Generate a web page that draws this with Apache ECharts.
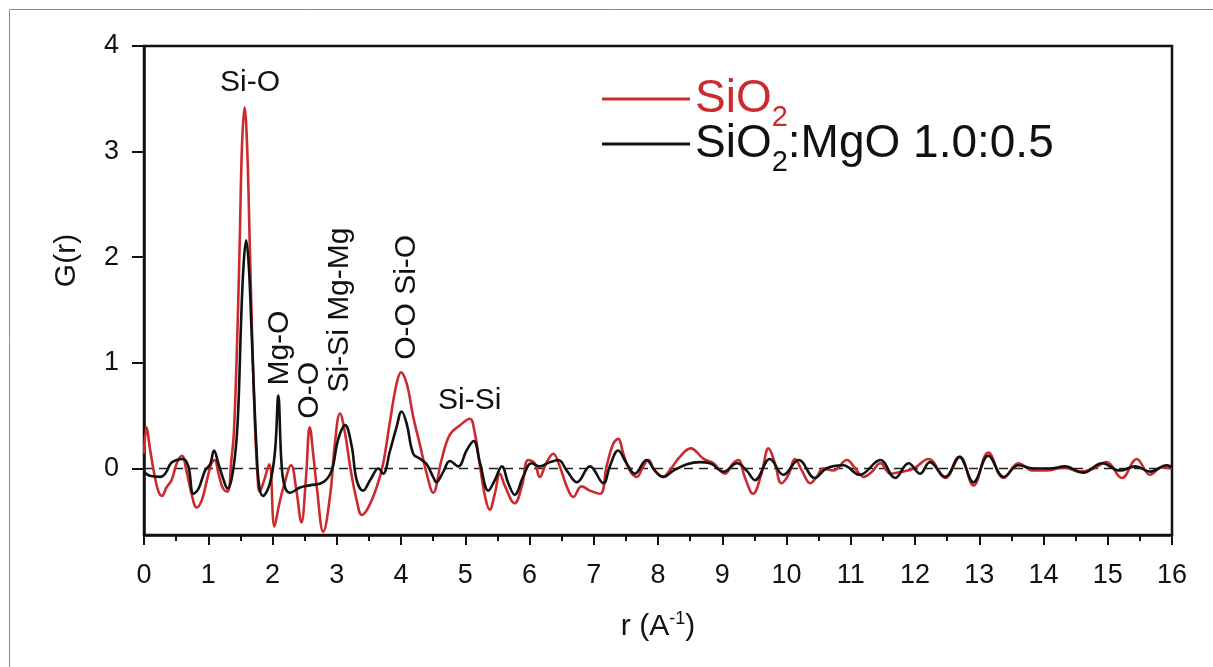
<!DOCTYPE html>
<html>
<head>
<meta charset="utf-8">
<script src="https://cdn.jsdelivr.net/npm/echarts@6/dist/echarts.min.js"></script>
<style>
  html, body { margin: 0; padding: 0; background: #fff; }
  #chart { width: 1213px; height: 667px; }
</style>
</head>
<body>
<div id="chart"></div>
<script>
// G(r), SiO2 (red)
var redR = [0.00, 0.04, 0.09, 0.15, 0.22, 0.28, 0.35, 0.43, 0.51, 0.59, 0.66, 0.74, 0.82, 0.90, 0.98,
  1.05, 1.10, 1.16, 1.23, 1.30, 1.36, 1.40, 1.45, 1.49, 1.525, 1.565, 1.605, 1.645, 1.685, 1.725, 1.765, 1.80,
  1.86, 1.95, 2.03, 2.10, 2.17, 2.29, 2.37, 2.45, 2.52, 2.58, 2.64, 2.69, 2.79, 2.90, 2.97, 3.05, 3.13, 3.21, 3.31,
  3.39, 3.49, 3.62, 3.72, 3.83, 3.93, 4.00, 4.09, 4.19, 4.30, 4.40, 4.50, 4.63, 4.76, 4.92, 5.07, 5.15,
  5.23, 5.31, 5.38, 5.46, 5.54, 5.62, 5.77, 5.88, 5.98, 6.08, 6.16, 6.26, 6.37, 6.47, 6.58, 6.68, 6.81,
  6.94, 7.10, 7.20, 7.30, 7.38, 7.46, 7.56, 7.67, 7.77, 7.85, 7.95, 8.08, 8.18, 8.34, 8.51, 8.71, 8.86,
  9.04, 9.17, 9.25, 9.35, 9.48, 9.61, 9.72, 9.82, 9.92, 10.03, 10.13, 10.24, 10.37, 10.47, 10.57, 10.73,
  10.94, 11.07, 11.20, 11.33, 11.46, 11.62, 11.80, 11.98, 12.21, 12.47, 12.70, 12.91, 13.14, 13.38,
  13.61, 13.84, 14.05, 14.31, 14.57, 14.78, 14.98, 15.22, 15.45, 15.66, 15.84, 16.00];
var redG = [0.14, 0.39, 0.20, -0.02, -0.21, -0.26, -0.18, -0.11, 0.05, 0.12, -0.02, -0.24, -0.37, -0.30, -0.11,
  0.05, 0.08, -0.05, -0.19, -0.22, 0.08, 0.35, 1.21, 2.15, 3.05, 3.42, 3.05, 2.15, 1.21, 0.45, -0.05, -0.22,
  -0.13, 0.04, -0.55, -0.35, -0.18, 0.03, -0.20, -0.51, -0.10, 0.39, 0.10, -0.18, -0.60, -0.24, 0.23, 0.52, 0.33, 0.01, -0.30,
  -0.44, -0.37, -0.18, 0.04, 0.45, 0.80, 0.91, 0.80, 0.49, 0.21, -0.05, -0.23, 0.08, 0.32, 0.41, 0.47, 0.33,
  0.02, -0.27, -0.39, -0.24, -0.05, -0.17, -0.33, -0.17, 0.08, 0.05, -0.08, 0.05, 0.14, 0.02, -0.17, -0.27, -0.17,
  -0.21, -0.24, 0.02, 0.23, 0.28, 0.14, -0.02, -0.08, 0.02, 0.08, -0.02, -0.08, -0.02, 0.11, 0.19, 0.09, 0.05,
  -0.05, 0.05, 0.08, -0.08, -0.24, -0.05, 0.19, 0.05, -0.14, -0.06, 0.09, -0.02, -0.14, -0.08, 0.00, -0.02,
  0.08, 0.00, -0.08, -0.03, 0.05, -0.05, -0.03, 0.00, 0.09, -0.09, 0.11, -0.16, 0.15, -0.09,
  0.05, -0.02, -0.02, 0.01, -0.03, 0.00, 0.06, -0.09, 0.09, -0.06, 0.01, 0.00];

// SiO2:MgO 1.0:0.5 (black)
var blackR = [0.00, 0.09, 0.25, 0.33, 0.42, 0.51, 0.61, 0.69, 0.77, 0.85, 0.95, 1.03, 1.09, 1.16, 1.24,
  1.30, 1.36, 1.43, 1.47, 1.51, 1.55, 1.59, 1.63, 1.67, 1.71, 1.75, 1.79, 1.85, 1.96, 2.04, 2.09, 2.14, 2.19,
  2.27, 2.43, 2.58, 2.79, 2.92, 3.02, 3.13, 3.23, 3.31, 3.41, 3.52, 3.65, 3.72, 3.83, 3.93, 4.01, 4.09,
  4.19, 4.30, 4.40, 4.50, 4.55, 4.66, 4.76, 4.89, 5.02, 5.13, 5.23, 5.36, 5.46, 5.57, 5.67, 5.77, 5.90,
  6.03, 6.16, 6.32, 6.45, 6.58, 6.74, 6.94, 7.15, 7.25, 7.38, 7.51, 7.64, 7.82, 7.95, 8.08, 8.24, 8.45,
  8.65, 8.81, 9.02, 9.23, 9.38, 9.51, 9.74, 9.95, 10.19, 10.44, 10.62, 10.88, 11.14, 11.46, 11.69, 11.90,
  12.08, 12.23, 12.47, 12.69, 12.91, 13.14, 13.38, 13.61, 13.84, 14.10, 14.33, 14.62, 14.91, 15.19, 15.43,
  15.66, 15.92, 16.00];
var blackG = [-0.03, -0.07, -0.08, -0.05, 0.05, 0.08, 0.09, 0.02, -0.24, -0.19, -0.02, 0.04, 0.17, 0.04, -0.11,
  -0.19, -0.11, 0.20, 0.60, 1.37, 1.93, 2.16, 1.93, 1.37, 0.75, 0.20, -0.15, -0.26, -0.14, 0.17, 0.69, 0.05, -0.17,
  -0.23, -0.18, -0.16, -0.13, -0.02, 0.27, 0.41, 0.22, -0.11, -0.21, -0.11, 0.00, -0.05, 0.17, 0.39, 0.54, 0.42,
  0.14, 0.09, 0.04, -0.08, -0.13, -0.03, 0.07, 0.02, 0.17, 0.26, 0.05, -0.21, -0.11, 0.02, -0.14, -0.25, -0.08,
  0.05, 0.02, 0.06, 0.08, -0.02, -0.13, 0.02, -0.14, 0.02, 0.17, 0.05, -0.05, 0.08, -0.02, -0.08, -0.02, 0.04,
  0.06, 0.05, -0.03, 0.05, -0.02, -0.11, 0.09, -0.06, 0.08, -0.09, 0.00, 0.03, -0.06, 0.08, -0.09, 0.05,
  -0.05, 0.06, -0.08, 0.11, -0.13, 0.12, -0.08, 0.03, 0.00, 0.00, 0.02, -0.04, 0.05, -0.02, 0.02,
  -0.03, 0.03, 0.01];

// dashed zero reference line
var zeroLine = [[0, 0], [16, 0]];

var yTicks = [0, 1, 2, 3, 4];

// peak labels: text, anchor [r, G], rotation
var peakNames = ['Si-O', 'Mg-O', 'O-O', 'Si-Si Mg-Mg', 'O-O Si-O', 'Si-Si'];
var peakAt = [[1.65, 3.65], [2.12, 1.14], [2.58, 0.74], [3.05, 1.50], [4.09, 1.62], [5.07, 0.64]];
var peakRot = [0, 90, 90, 90, 90, 0];

var RED = '#cc2a2e';
var INK = '#111111';
var FONT = 'Liberation Sans, Arial, sans-serif';

function pairs(xs, ys) {
  var out = [];
  for (var i = 0; i < xs.length; i++) out.push([xs[i], ys[i]]);
  return out;
}

function legendRich(color) {
  return {
    a: { color: color, fontSize: 46, lineHeight: 46, verticalAlign: 'top', fontFamily: FONT },
    s: { color: color, fontSize: 29, lineHeight: 29, padding: [27, 0, 0, 0], verticalAlign: 'top', fontFamily: FONT }
  };
}

var chart = echarts.init(document.getElementById('chart'));

var peakPoints = peakNames.map(function (n, i) {
  return { name: n, coord: peakAt[i], label: { rotate: peakRot[i] } };
});

var option = {
  animation: false,
  backgroundColor: '#fff',
  textStyle: { fontFamily: FONT },
  graphic: [{
    type: 'rect',
    shape: { x: 9.5, y: 9.5, width: 1212, height: 700 },
    style: { fill: 'none', stroke: '#8a8a8a', lineWidth: 1 },
    silent: true
  }],
  grid: {
    left: 144, right: 41, top: 46, bottom: 132,
    show: true, borderColor: INK, borderWidth: 2.5
  },
  legend: [{
    data: ['SiO2'],
    left: 602, top: 76, padding: 0,
    icon: 'rect', itemWidth: 88, itemHeight: 3,
    formatter: function () { return '{a|SiO}{s|2}'; },
    textStyle: { rich: legendRich(RED) }
  }, {
    data: ['SiO2:MgO 1.0:0.5'],
    left: 602, top: 121, padding: 0,
    icon: 'rect', itemWidth: 88, itemHeight: 3,
    formatter: function () { return '{a|SiO}{s|2}{a|:MgO 1.0:0.5}'; },
    textStyle: { rich: legendRich(INK) }
  }],
  xAxis: {
    type: 'value', min: 0, max: 16, interval: 1,
    name: '{a|r (A}{s|-1}{a|)}',
    nameLocation: 'middle', nameGap: 74,
    nameTextStyle: {
      rich: {
        a: { fontSize: 30, color: INK, fontFamily: FONT, lineHeight: 36 },
        s: { fontSize: 18, color: INK, fontFamily: FONT, lineHeight: 36, padding: [0, 0, 15, 0] }
      }
    },
    axisLine: { onZero: false, lineStyle: { color: INK, width: 2.5 } },
    axisTick: { length: 10, lineStyle: { color: INK, width: 2 } },
    minorTick: { show: true, splitNumber: 2, length: 6, lineStyle: { color: INK, width: 2 } },
    axisLabel: { margin: 27, fontSize: 27, color: INK, fontFamily: FONT },
    splitLine: { show: false }
  },
  yAxis: {
    type: 'value', min: -0.63, max: 4,
    name: 'G(r)', nameLocation: 'middle', nameRotate: 90, nameGap: 62,
    nameTextStyle: { fontSize: 30, color: INK, fontFamily: FONT, padding: [0, 0, 0, 60] },
    axisLine: { onZero: false, lineStyle: { color: INK, width: 2.5 } },
    axisTick: { length: 12, customValues: yTicks, lineStyle: { color: INK, width: 2 } },
    axisLabel: { margin: 25, fontSize: 27, color: INK, fontFamily: FONT, customValues: yTicks },
    splitLine: { show: false }
  },
  series: [{
    name: 'zero',
    type: 'line',
    data: zeroLine,
    showSymbol: false,
    silent: true,
    z: 1,
    lineStyle: { color: '#222', width: 1.6, type: [9, 6] }
  }, {
    name: 'SiO2',
    type: 'line',
    data: pairs(redR, redG),
    showSymbol: false,
    smooth: 0.4,
    z: 2,
    color: RED,
    lineStyle: { color: RED, width: 2.6 }
  }, {
    name: 'SiO2:MgO 1.0:0.5',
    type: 'line',
    data: pairs(blackR, blackG),
    showSymbol: false,
    smooth: 0.4,
    z: 3,
    color: INK,
    lineStyle: { color: INK, width: 2.6 },
    markPoint: {
      symbol: 'circle', symbolSize: 0, silent: true,
      label: {
        show: true, position: 'inside', formatter: '{b}',
        color: INK, fontSize: 30, fontFamily: FONT
      },
      data: peakPoints
    }
  }]
};

chart.setOption(option);
</script>
</body>
</html>
